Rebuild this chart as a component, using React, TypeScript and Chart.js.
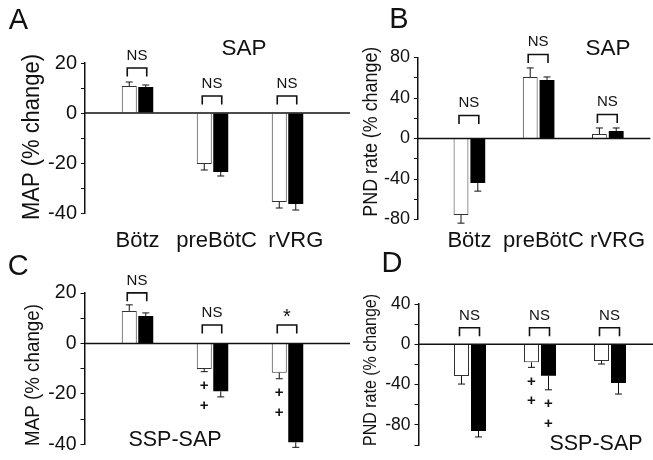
import React, { useEffect, useRef } from 'react';
import { Chart, registerables } from 'chart.js';

Chart.register(...registerables);

const W = 653;
const H = 460;
const FONT = "'Liberation Sans', Arial, Helvetica, sans-serif";
const INK = '#111';

// ---------- data ----------
const categories = ['Bötz', 'preBötC', 'rVRG'];

// A: MAP after SAP
const mapSapOpen = [10.8, -20.4, -35.6];
const mapSapOpenSem = [1.6, 2.4, 2.4];
const mapSapFilled = [10.4, -23.6, -36.4];
const mapSapFilledSem = [0.8, 1.6, 2.4];
const mapSapSig = ['NS', 'NS', 'NS'];

// B: PND rate after SAP
const pndSapOpen = [-75.6, 60.7, 4.4];
const pndSapOpenSem = [8, 9, 6];
const pndSapFilled = [-44, 57.8, 7.4];
const pndSapFilledSem = [8, 3, 3];
const pndSapSig = ['NS', 'NS', 'NS'];

// C: MAP after SSP-SAP
const mapSspOpen = [12.9, -10.1, -11.6];
const mapSspOpenSem = [2.4, 1.1, 2.4];
const mapSspFilled = [10.9, -19.0, -39.2];
const mapSspFilledSem = [1.2, 2.2, 2.0];
const mapSspSig = ['NS', 'NS', '*'];
const mapSspOpenPlus = [0, 2, 2];
const mapSspFilledPlus = [0, 0, 0];

// D: PND rate after SSP-SAP
const pndSspOpen = [-31.5, -17.9, -16.6];
const pndSspOpenSem = [8, 5, 3];
const pndSspFilled = [-86, -31.2, -38.4];
const pndSspFilledSem = [6, 14, 11];
const pndSspSig = ['NS', 'NS', 'NS'];
const pndSspOpenPlus = [0, 2, 0];
const pndSspFilledPlus = [0, 2, 0];

// y-axis ticks
const mapAxis = { min: -40, max: 20, step: 10, labelEvery: 20 };
const pndSapAxis = { min: -80, max: 80, step: 20, labelEvery: 40 };
const pndSspAxis = { min: -100, max: 40, step: 20, labelEvery: 40 };

const noPlus = [0, 0, 0];

type Panel = {
  open: number[]; openSem: number[]; filled: number[]; filledSem: number[];
  sig: string[]; openPlus: number[]; filledPlus: number[];
  axis: { min: number; max: number; step: number; labelEvery: number };
  area: { left: number; right: number; top: number; bottom: number };
  firstCenter: number; spacing: number; catPct: number; barPct: number;
  showCats: boolean; catPad: number; labelSpread: number; xAxisH: number;
  tickSize: number;
  title: { text: string; cx: number; cy: number; size: number; len: number };
  letter: { text: string; cx: number; base: number };
  tag: { text: string; cx: number; cy: number; size: number };
  posGap: number; zeroGap: number;
};

const panels: Panel[] = [
  {
    open: mapSapOpen, openSem: mapSapOpenSem, filled: mapSapFilled, filledSem: mapSapFilledSem,
    sig: mapSapSig, openPlus: noPlus, filledPlus: noPlus, axis: mapAxis,
    area: { left: 85, right: 350, top: 63, bottom: 213 },
    firstCenter: 137.5, spacing: 75, catPct: 0.44, barPct: 0.909,
    showCats: true, catPad: 14.5, labelSpread: 1.055, xAxisH: 60, tickSize: 20,
    title: { text: 'MAP (% change)', cx: 30.5, cy: 137, size: 24.6, len: 166 },
    letter: { text: 'A', cx: 18.3, base: 29.3 },
    tag: { text: 'SAP', cx: 244, cy: 46.7, size: 22.5 },
    posGap: 14, zeroGap: 17,
  },
  {
    open: pndSapOpen, openSem: pndSapOpenSem, filled: pndSapFilled, filledSem: pndSapFilledSem,
    sig: pndSapSig, openPlus: noPlus, filledPlus: noPlus, axis: pndSapAxis,
    area: { left: 418, right: 653, top: 57.5, bottom: 219.5 },
    firstCenter: 470, spacing: 70, catPct: 0.4857, barPct: 0.882,
    showCats: true, catPad: 8, labelSpread: 1.07, xAxisH: 60, tickSize: 18,
    title: { text: 'PND rate (% change)', cx: 369.2, cy: 131.7, size: 21, len: 170 },
    letter: { text: 'B', cx: 399, base: 28 },
    tag: { text: 'SAP', cx: 608, cy: 46.7, size: 22.5 },
    posGap: 13.5, zeroGap: 23,
  },
  {
    open: mapSspOpen, openSem: mapSspOpenSem, filled: mapSspFilled, filledSem: mapSspFilledSem,
    sig: mapSspSig, openPlus: mapSspOpenPlus, filledPlus: mapSspFilledPlus, axis: mapAxis,
    area: { left: 84.5, right: 350, top: 293, bottom: 445 },
    firstCenter: 137.5, spacing: 75, catPct: 0.44, barPct: 0.909,
    showCats: false, catPad: 0, labelSpread: 1, xAxisH: 0, tickSize: 19.5,
    title: { text: 'MAP (% change)', cx: 31, cy: 375, size: 21, len: 142 },
    letter: { text: 'C', cx: 18.3, base: 274.5 },
    tag: { text: 'SSP-SAP', cx: 175, cy: 438.3, size: 21.5 },
    posGap: 12, zeroGap: 18.5,
  },
  {
    open: pndSspOpen, openSem: pndSspOpenSem, filled: pndSspFilled, filledSem: pndSspFilledSem,
    sig: pndSspSig, openPlus: pndSspOpenPlus, filledPlus: pndSspFilledPlus, axis: pndSspAxis,
    area: { left: 418.5, right: 653, top: 304, bottom: 445 },
    firstCenter: 470, spacing: 70, catPct: 0.4857, barPct: 0.882,
    showCats: false, catPad: 0, labelSpread: 1, xAxisH: 0, tickSize: 17.5,
    title: { text: 'PND rate (% change)', cx: 369, cy: 370, size: 19, len: 152 },
    letter: { text: 'D', cx: 392, base: 271.5 },
    tag: { text: 'SSP-SAP', cx: 596, cy: 442.3, size: 21.5 },
    posGap: 13, zeroGap: 16.6,
  },
];

function capText(ctx: CanvasRenderingContext2D, text: string, x: number, cy: number, size: number, weight = '') {
  ctx.font = `${weight} ${size}px ${FONT}`;
  ctx.textAlign = 'center';
  ctx.textBaseline = 'alphabetic';
  const k = text === '*' ? 0.57 : 0.358;
  ctx.fillText(text, x, cy + k * size);
}

function makeChart(canvas: HTMLCanvasElement, p: Panel) {
  const xMin = (p.area.left - p.firstCenter) / p.spacing;
  const xMax = (p.area.right - p.firstCenter) / p.spacing;
  const toXY = (vals: number[]) => vals.map((y, i) => ({ x: i, y }));

  const overlay = {
    id: 'overlay',
    afterDatasetsDraw(chart: any) {
      const ctx: CanvasRenderingContext2D = chart.ctx;
      const ys = chart.scales.y;
      const ca = chart.chartArea;
      ctx.save();
      ctx.strokeStyle = INK;
      ctx.lineWidth = 1;
      const sets: [number[], number[]][] = [[p.open, p.openSem], [p.filled, p.filledSem]];
      sets.forEach(([vals, sems], di) => {
        const meta = chart.getDatasetMeta(di);
        meta.data.forEach((bar: any, i: number) => {
          const v = vals[i];
          const dir = v >= 0 ? 1 : -1;
          const y1 = ys.getPixelForValue(v);
          const y2 = ys.getPixelForValue(v + dir * sems[i]);
          ctx.beginPath();
          ctx.moveTo(bar.x, y1);
          ctx.lineTo(bar.x, y2);
          ctx.moveTo(bar.x - 3.5, y2);
          ctx.lineTo(bar.x + 3.5, y2);
          ctx.stroke();
        });
      });
      // zero line
      const y0 = ys.getPixelForValue(0);
      ctx.lineWidth = 1.6;
      ctx.beginPath();
      ctx.moveTo(ca.left, y0);
      ctx.lineTo(ca.right, y0);
      ctx.stroke();
      ctx.restore();
    },
    afterDraw(chart: any) {
      const ctx: CanvasRenderingContext2D = chart.ctx;
      const ys = chart.scales.y;
      const m0 = chart.getDatasetMeta(0);
      const m1 = chart.getDatasetMeta(1);
      ctx.save();
      ctx.fillStyle = INK;
      ctx.strokeStyle = INK;
      // significance brackets
      p.sig.forEach((s, i) => {
        const tops = [p.open[i] + (p.open[i] > 0 ? p.openSem[i] : 0), p.filled[i] + (p.filled[i] > 0 ? p.filledSem[i] : 0), 0];
        const top = Math.max(...tops);
        const by = ys.getPixelForValue(top) - (top > 0 ? p.posGap : p.zeroGap);
        const xl = m0.data[i].x - 2;
        const xr = m1.data[i].x + 1;
        ctx.lineWidth = 1.6;
        ctx.beginPath();
        ctx.moveTo(xl, by + 8.5);
        ctx.lineTo(xl, by);
        ctx.lineTo(xr, by);
        ctx.lineTo(xr, by + 8.5);
        ctx.stroke();
        capText(ctx, s, (xl + xr) / 2, by - 13.5, s === '*' ? 20 : 15);
      });
      // "+" markers below bars
      const plusSets: [number[], number[], number[], any][] = [
        [p.open, p.openSem, p.openPlus, m0], [p.filled, p.filledSem, p.filledPlus, m1],
      ];
      plusSets.forEach(([vals, sems, counts, meta]) => {
        counts.forEach((n, i) => {
          const cap = ys.getPixelForValue(vals[i] - sems[i]);
          for (let k = 0; k < n; k++) {
            capText(ctx, '+', meta.data[i].x, cap + 13 + k * 19.5, 15, 'bold');
          }
        });
      });
      // panel letter
      ctx.font = `29px ${FONT}`;
      ctx.textAlign = 'center';
      ctx.textBaseline = 'alphabetic';
      ctx.fillText(p.letter.text, p.letter.cx, p.letter.base);
      // tag
      capText(ctx, p.tag.text, p.tag.cx, p.tag.cy, p.tag.size);
      // y title
      const t = p.title;
      ctx.font = `${t.size}px ${FONT}`;
      const w = ctx.measureText(t.text).width;
      ctx.translate(t.cx, t.cy);
      ctx.rotate(-Math.PI / 2);
      ctx.scale(t.len / w, 1);
      ctx.textAlign = 'center';
      ctx.textBaseline = 'alphabetic';
      ctx.fillText(t.text, 0, 0.358 * t.size);
      ctx.restore();
    },
  };

  return new Chart(canvas, {
    type: 'bar',
    data: {
      datasets: [
        {
          data: toXY(p.open) as any,
          backgroundColor: '#fff',
          borderColor: '#333',
          borderWidth: 1,
          categoryPercentage: p.catPct,
          barPercentage: p.barPct,
        },
        {
          data: toXY(p.filled) as any,
          backgroundColor: '#000',
          borderWidth: 0,
          categoryPercentage: p.catPct,
          barPercentage: p.barPct,
        },
      ],
    },
    options: {
      responsive: false,
      animation: false,
      events: [],
      layout: {
        padding: { left: 0, top: p.area.top, right: W - p.area.right, bottom: H - p.area.bottom - p.xAxisH },
      },
      plugins: { legend: { display: false }, tooltip: { enabled: false }, title: { display: false } },
      scales: {
        x: {
          type: 'linear',
          min: xMin,
          max: xMax,
          offset: false,
          bounds: 'data',
          grid: { display: false, drawTicks: false },
          border: { display: false },
          ticks: {
            display: p.showCats,
            autoSkip: false,
            maxRotation: 0,
            minRotation: 0,
            padding: p.catPad,
            color: INK,
            font: { family: FONT, size: 22 },
            callback: (_v: any, i: number) => categories[i] ?? '',
          },
          afterBuildTicks: (s: any) => {
            s.ticks = categories.map((_, i) => ({ value: i * p.labelSpread }));
          },
          afterFit: (s: any) => {
            s.height = p.xAxisH;
          },
        } as any,
        y: {
          type: 'linear',
          min: p.axis.min,
          max: p.axis.max,
          ticks: {
            stepSize: p.axis.step,
            autoSkip: false,
            padding: 4,
            color: INK,
            font: { family: FONT, size: p.tickSize },
            callback: (v: any) => (Math.round(v) % p.axis.labelEvery === 0 ? String(Math.round(v)) : ''),
          },
          grid: { display: true, drawOnChartArea: false, drawTicks: true, tickLength: 4, tickColor: INK, tickWidth: 1 },
          border: { display: true, color: INK, width: 1.5 },
          afterFit: (s: any) => {
            s.width = p.area.left;
          },
        } as any,
      },
    },
    plugins: [overlay],
  });
}

export default function App() {
  const refs = useRef<(HTMLCanvasElement | null)[]>([]);

  useEffect(() => {
    document.body.style.margin = '0';
    const charts = panels.map((p, i) => makeChart(refs.current[i] as HTMLCanvasElement, p));
    return () => charts.forEach((c) => c.destroy());
  }, []);

  return (
    <div style={{ position: 'relative', width: W, height: H, background: '#fff' }}>
      {panels.map((_, i) => (
        <canvas
          key={i}
          ref={(el) => {
            refs.current[i] = el;
          }}
          width={W}
          height={H}
          style={{ position: 'absolute', left: 0, top: 0, width: W, height: H }}
        />
      ))}
    </div>
  );
}
